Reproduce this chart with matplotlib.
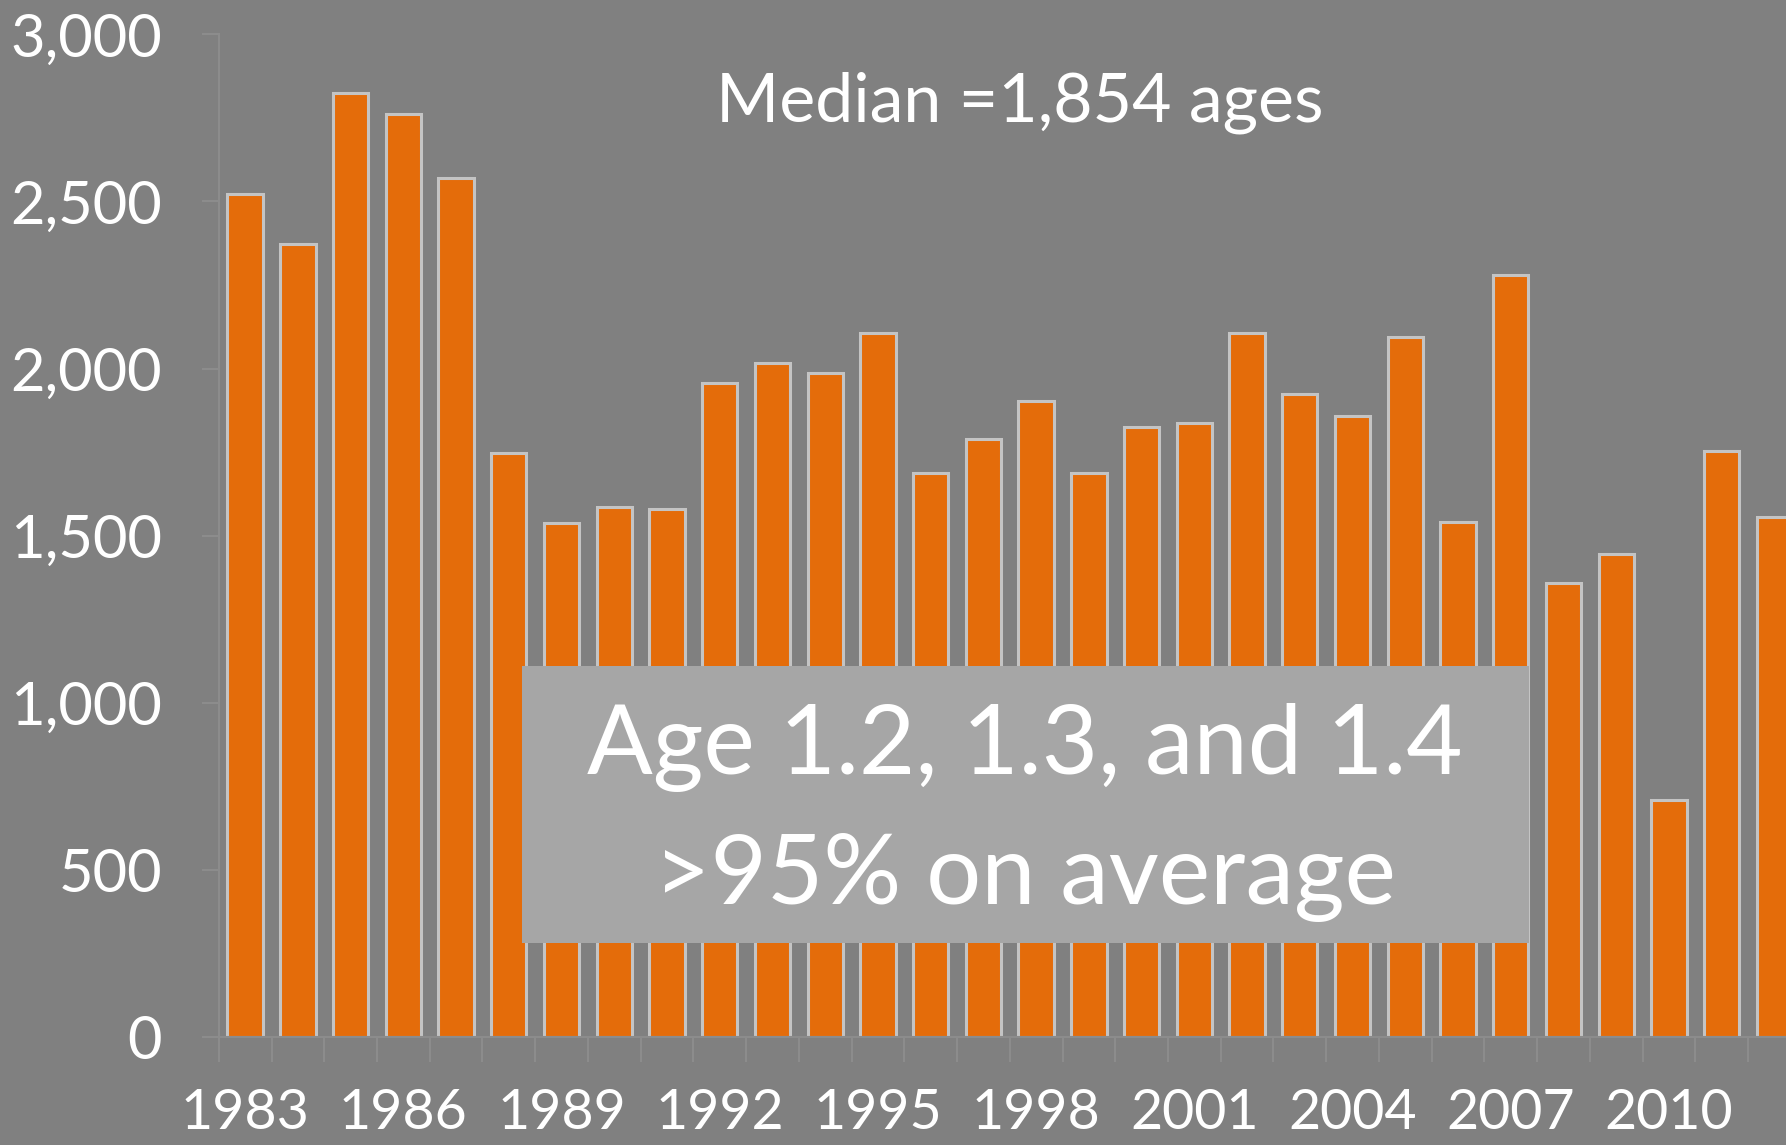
import numpy as np
import matplotlib.pyplot as plt
from matplotlib.patches import Rectangle

# --- data ---
years = list(range(1983, 2013))
catch_values = [2523, 2373, 2826, 2762, 2571, 1746, 1538, 1585, 1579, 1957,
                2018, 1988, 2107, 1688, 1790, 1902, 1688, 1824, 1838, 2107,
                1923, 1858, 2093, 1541, 2281, 1357, 1446, 709, 1752, 1555]
y_ticks = [0, 500, 1000, 1500, 2000, 2500, 3000]
median_text = "Median =1,854 ages"
box_lines = ["Age 1.2, 1.3, and 1.4", ">95% on average"]

BG = '#808080'
BAR = '#E46C0A'
EDGE = '#C4C4C4'
AXIS = '#8C8C8C'

plt.rcParams['font.family'] = ['Lato', 'DejaVu Sans']

fig = plt.figure(figsize=(17.86, 11.45), dpi=100, facecolor=BG)
ax = fig.add_axes([0.1225, 0.0943, 0.8775, 0.8757])
ax.set_facecolor(BG)

x = np.arange(len(years))
ax.bar(x, catch_values, width=0.67, color=BAR, edgecolor=EDGE, linewidth=2.2)

ax.set_xlim(-0.5, 29.22)
ax.set_ylim(0, 3000)
ax.set_yticks(y_ticks)
ax.set_yticklabels([f"{v:,}" for v in y_ticks])
ax.set_xticks(x[::3])
ax.set_xticklabels([str(y) for y in years[::3]])
# category boundary ticks below the axis
ax.set_xticks(np.arange(-0.5, 29.5, 1), minor=True)

for s in ['top', 'right']:
    ax.spines[s].set_visible(False)
for s in ['left', 'bottom']:
    ax.spines[s].set_color(AXIS)
    ax.spines[s].set_linewidth(1.5)

ax.tick_params(axis='y', colors=AXIS, labelcolor='white', labelsize=43,
               length=12, width=1.5, pad=29)
ax.tick_params(axis='x', which='major', length=0, labelcolor='white',
               labelsize=40, pad=37)
ax.tick_params(axis='x', which='minor', colors=AXIS, length=18, width=1.5)

fig.text(0.571, 0.910, median_text, color='white', fontsize=49,
         ha='center', va='center')

box = Rectangle((0.292, 0.176), 0.564, 0.242, transform=fig.transFigure,
                facecolor='#A6A6A6', edgecolor='none', zorder=5)
fig.patches.append(box)
fig.text(0.574, 0.347, box_lines[0], color='white', fontsize=70,
         ha='center', va='center', zorder=6)
fig.text(0.574, 0.234, box_lines[1], color='white', fontsize=70,
         ha='center', va='center', zorder=6)

fig.savefig('out.png', dpi=100, facecolor=BG)
